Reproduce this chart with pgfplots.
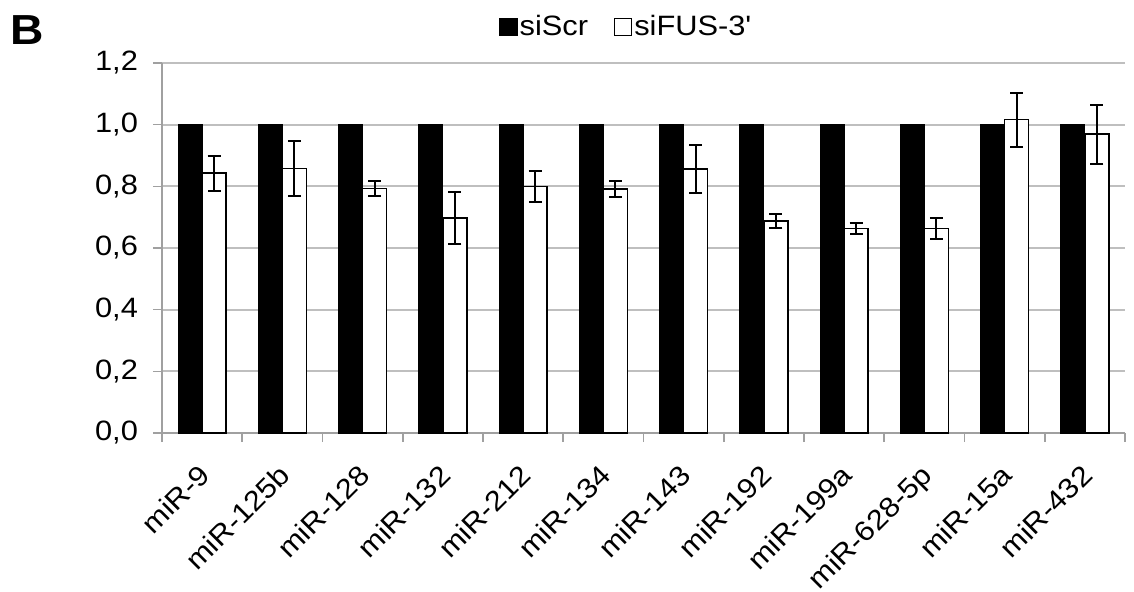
\documentclass[border=0pt]{standalone}
\usepackage{pgfplots}
\pgfplotsset{compat=1.18}
\usepackage{pgfplotstable}
\usepackage{fontspec}
\setmainfont{Liberation Sans}[FakeStretch=1.1]
\definecolor{gridgray}{HTML}{BFBFBF}
\definecolor{axgray}{HTML}{A0A0A0}
\pgfplotstableread{
x y
0 1
1 1
2 1
3 1
4 1
5 1
6 1
7 1
8 1
9 1
10 1
11 1
}\scr
\pgfplotstableread{
x y e
0 0.843 0.057
1 0.858 0.088
2 0.793 0.023
3 0.698 0.085
4 0.800 0.050
5 0.791 0.025
6 0.856 0.078
7 0.688 0.023
8 0.664 0.018
9 0.663 0.033
10 1.016 0.088
11 0.969 0.096
}\fus
\begin{document}
\begin{tikzpicture}
\useasboundingbox (-81pt,-79pt) rectangle (486pt,216.5pt);
\begin{axis}[
  scale only axis,
  width=481.5pt, height=185pt,
  xmin=-0.5, xmax=11.5,
  ymin=0, ymax=1.2,
  ytick={0,0.2,...,1.2},
  axis x line*=bottom, axis y line*=left,
  axis line style={axgray, line width=0.8pt, -},
  ymajorgrids,
  grid style={gridgray, line width=0.9pt},
  tick align=outside,
  major tick length=4.5pt,
  tick style={axgray, line width=0.8pt},
  xtick={0,...,11},
  xticklabels={miR-9,miR-125b,miR-128,miR-132,miR-212,miR-134,miR-143,miR-192,miR-199a,miR-628-5p,miR-15a,miR-432},
  major x tick style={draw=none},
  minor xtick={-0.5,0.5,...,11.5},
  minor x tick style={axgray, line width=0.8pt},
  minor tick length=4.5pt,
  yticklabel style={font=\fontsize{14}{16}\selectfont, xshift=-4pt},
  xticklabel style={font=\fontsize{14}{16}\selectfont, yshift=-10pt, xshift=-2.5pt, rotate=45, anchor=north east, inner sep=0pt},
  /pgf/number format/.cd, use comma, fixed, fixed zerofill, precision=1, assume math mode=true,
  /pgfplots/.cd,
  ybar=0pt, bar width=12pt,
  legend style={at={(0.483,1.097)}, anchor=center, draw=none, fill=none, legend columns=2, font=\fontsize{14}{16}\selectfont, /tikz/every even column/.append style={column sep=11pt}, /tikz/every odd column/.append style={column sep=-1pt}},
  legend image code/.code={\draw[#1, line width=0.6pt] (0pt,-4.3pt) rectangle (8.5pt,4.3pt);},
  clip=false,
]
\addplot[fill=black, draw=black] table[x=x,y=y] {\scr};
\addlegendentry{siScr}
\addplot[fill=white, draw=black, line width=0.75pt,
  error bars/.cd, y dir=both, y explicit,
  error bar style={line width=1pt, black},
  error mark options={rotate=90, mark size=3.3pt, line width=1pt, black}]
  table[x=x,y=y,y error=e] {\fus};
\addlegendentry{siFUS-3\textquotesingle}
\end{axis}
\node[font=\fontsize{21}{24}\selectfont\bfseries] at (-67.5pt,201.5pt) {B};
\end{tikzpicture}
\end{document}
